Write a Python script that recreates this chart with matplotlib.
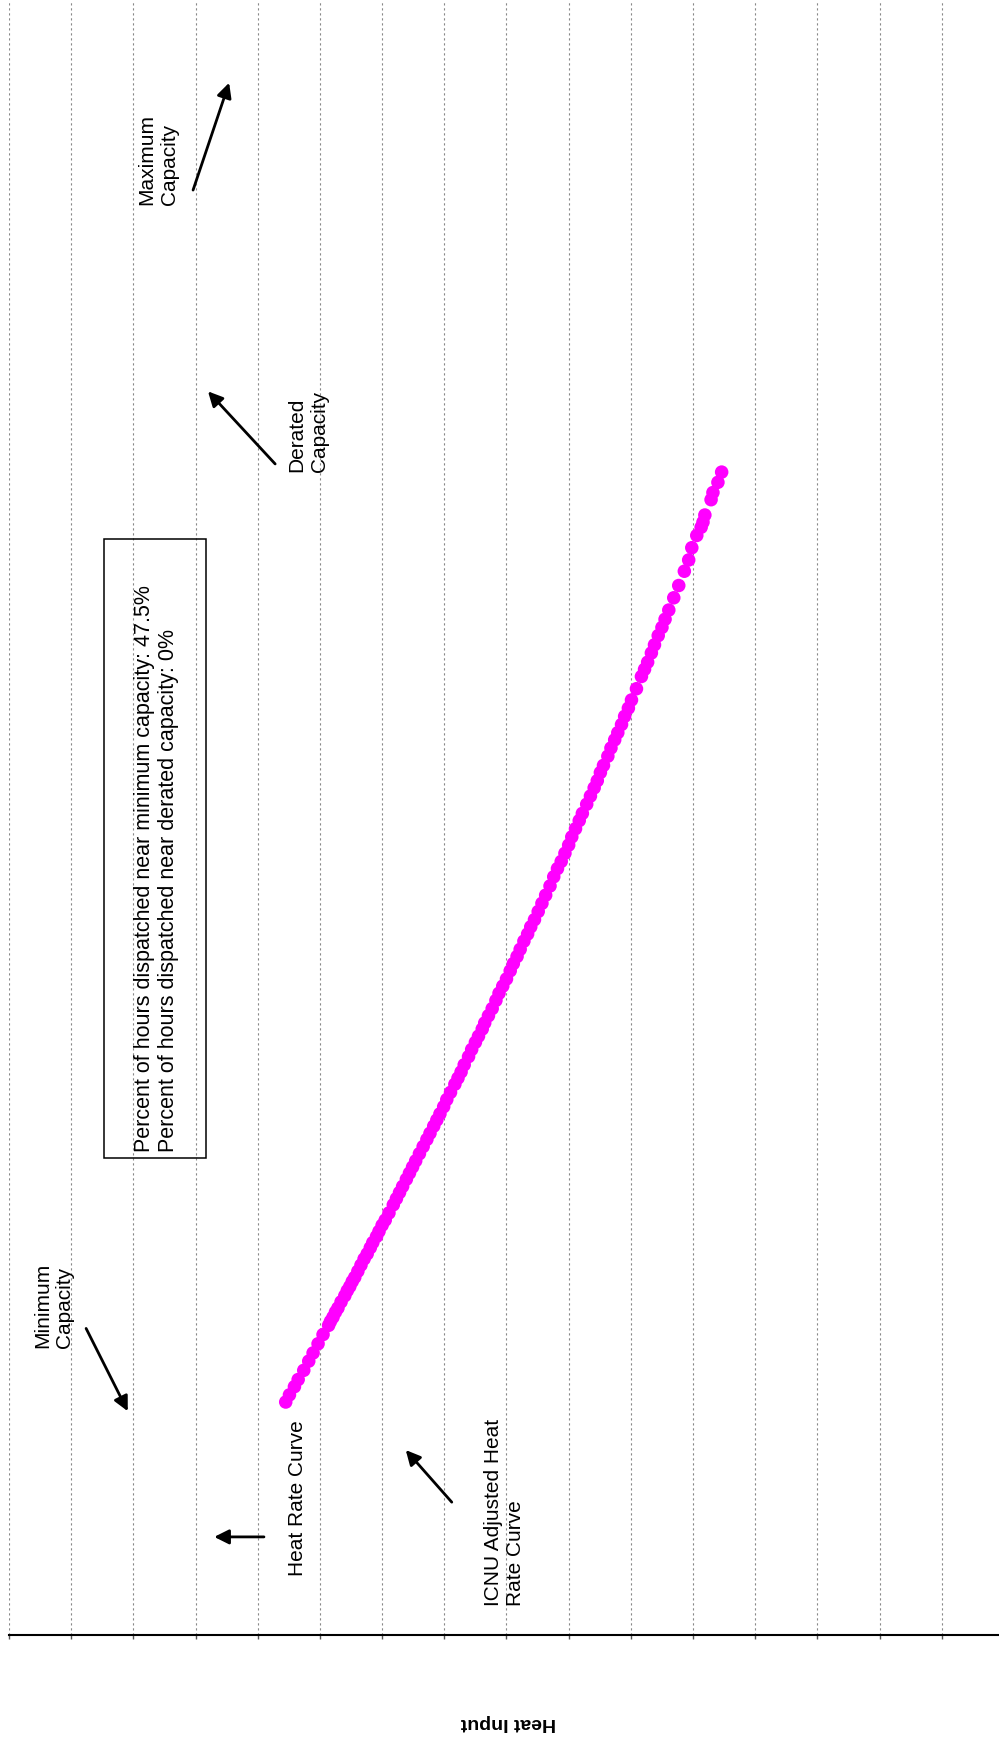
import matplotlib.pyplot as plt
from matplotlib.patches import Rectangle

plt.rcParams['font.family'] = ['Liberation Sans', 'DejaVu Sans']

# Dispatch points: unit capacity (vertical) and heat input (horizontal)
capacity = [22.8, 23.5, 24.3, 25.0, 25.9, 26.8, 27.6, 28.5, 29.4, 30.3, 31.1, 32.0,
            33.2, 34.1, 35.0, 36.2, 37.3, 38.4, 39.5, 40.6, 42.1, 43.3, 44.6, 45.8,
            47.1, 48.5, 49.8, 51.0, 52.4, 53.9, 55.1, 56.6, 58.0, 59.3, 60.6, 62.1,
            63.5, 65.0, 66.4, 67.9, 69.3, 70.8, 72.4, 74.2, 75.7, 77.3, 78.9, 80.4,
            82.1, 83.6, 85.1, 86.8, 88.3, 89.9, 91.5, 93.8, 95.2, 96.9, 98.6, 100.3,
            102.7, 104.1,
            30.7, 31.6, 32.6, 33.7, 34.6, 35.6, 36.8, 37.9, 39.0, 40.1, 41.3,
            42.7, 43.9, 45.2, 46.4, 47.8, 49.1, 50.4, 51.7, 53.1, 54.5, 55.8, 57.3,
            58.6, 59.9, 61.3, 62.8, 64.2, 65.7, 67.1, 68.6, 70.0, 71.6, 73.3, 75.0,
            76.5, 78.1, 79.7, 81.3, 82.9, 84.4, 86.0, 87.6, 89.1, 90.7, 92.6, 94.5,
            96.1, 97.8, 99.4, 101.5,
            105.2, 106.4, 107.6, 108.4, 108.9, 109.6, 111.1, 111.8, 112.8, 113.8]
heat_input = [4.45, 4.51, 4.59, 4.65, 4.74, 4.82, 4.89, 4.97, 5.05, 5.14, 5.21, 5.29,
              5.40, 5.48, 5.56, 5.66, 5.76, 5.85, 5.95, 6.05, 6.18, 6.28, 6.39, 6.49,
              6.60, 6.72, 6.83, 6.93, 7.04, 7.17, 7.27, 7.39, 7.50, 7.61, 7.71, 7.83,
              7.94, 8.06, 8.17, 8.28, 8.39, 8.51, 8.63, 8.76, 8.88, 9.00, 9.11, 9.22,
              9.35, 9.46, 9.56, 9.68, 9.79, 9.90, 10.01, 10.17, 10.27, 10.38, 10.50, 10.61,
              10.77, 10.86,
              5.17, 5.25, 5.34, 5.44, 5.52, 5.61, 5.71, 5.81, 5.91, 6.00, 6.11,
              6.23, 6.33, 6.44, 6.54, 6.66, 6.77, 6.88, 6.99, 7.10, 7.22, 7.32, 7.44,
              7.55, 7.65, 7.77, 7.88, 8.00, 8.11, 8.22, 8.34, 8.45, 8.57, 8.70, 8.82,
              8.94, 9.05, 9.17, 9.29, 9.41, 9.51, 9.63, 9.74, 9.85, 9.96, 10.09, 10.22,
              10.33, 10.44, 10.55, 10.69,
              10.93, 10.98, 11.06, 11.13, 11.16, 11.19, 11.29, 11.32, 11.40, 11.46]
grid_ticks = list(range(16))

box_lines = "Percent of hours dispatched near minimum capacity: 47.5%\nPercent of hours dispatched near derated capacity: 0%"

fig = plt.figure(figsize=(9.99, 17.38), dpi=100)
ax = fig.add_axes([9 / 999, 103 / 1738, 990 / 999, 1635 / 1738])

ax.scatter(heat_input, capacity, s=95, color='#FF00FF', edgecolors='none', zorder=3)

ax.set_xlim(0, 15.92)
ax.set_ylim(0, 160)
ax.set_xticks(grid_ticks)
ax.set_xticklabels([])
ax.set_yticks([])
ax.grid(axis='x', color='#888888', linestyle=(0, (2, 2.5)), linewidth=0.8)
ax.tick_params(axis='x', direction='out', length=3, width=1, color='#555555')
for side in ['left', 'right', 'top']:
    ax.spines[side].set_visible(False)
ax.spines['bottom'].set_linewidth(1.5)

# summary box
ax.add_patch(Rectangle((1.53, 46.7), 1.64, 60.6, fill=False, edgecolor='black',
                       linewidth=1.1, zorder=4))
ax.text(2.37, 47.3, box_lines, rotation=90, ha='center', va='bottom',
        multialignment='left', fontsize=15.5, zorder=5)

arrow = dict(arrowstyle='-|>', color='black', lw=2, mutation_scale=22, shrinkA=0, shrinkB=0)
notes = [
    ("Minimum\nCapacity", (0.72, 28.1), (1.24, 30.0), (1.91, 21.9)),
    ("Heat Rate Curve", (4.64, 5.8), (4.10, 9.6), (3.30, 9.6)),
    ("ICNU Adjusted Heat\nRate Curve", (7.97, 2.8), (7.12, 13.0), (6.38, 18.1)),
    ("Maximum\nCapacity", (2.40, 139.9), (2.96, 141.4), (3.54, 151.9)),
    ("Derated\nCapacity", (4.81, 113.8), (4.28, 114.6), (3.20, 121.7)),
]
for label, pos, start, tip in notes:
    ax.text(pos[0], pos[1], label, rotation=90, ha='center', va='bottom',
            multialignment='left', fontsize=15)
    ax.annotate('', xy=tip, xytext=start, arrowprops=arrow, annotation_clip=False)

fig.text(508 / 999, 1 - 1723 / 1738, "Heat Input", rotation=180, ha='center',
         va='center', fontsize=14, fontweight='bold')

fig.savefig('out.png', dpi=100)
